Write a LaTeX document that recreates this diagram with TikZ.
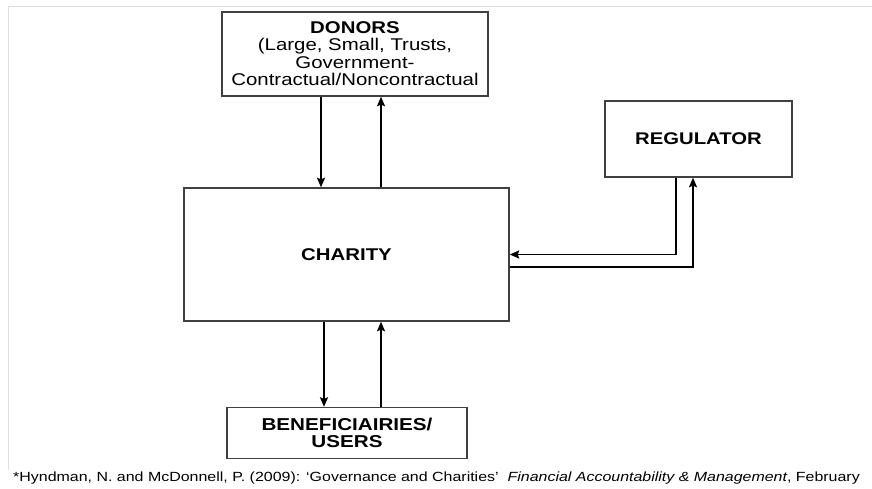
\documentclass[tikz,border=0pt]{standalone}
\usepackage{fontspec}
\setmainfont{Liberation Sans}[FakeStretch=1.2]
\usetikzlibrary{arrows.meta}
% lowers a box's contents by 2pt while keeping its declared size
\newcommand{\lowertext}[1]{\raisebox{-2pt}[\height][\depth]{\begin{tabular}{@{}c@{}}#1\end{tabular}}}
\begin{document}
\begin{tikzpicture}[x=1pt,y=-1pt,
  box/.style={draw=black!75,line width=1.4pt,fill=white,inner sep=0pt},
  flow/.style={draw=black,line width=1.8pt,-{Stealth[length=9.5pt,width=8pt,inset=1.5pt]}},
  frame/.style={draw=black!13,line width=1.6pt}]
\useasboundingbox (0,0) rectangle (872,488);
% page frame
\draw[frame] (8.5,470) -- (8.5,6.5) -- (872,6.5);
% boxes
\node[box,minimum width=266pt,minimum height=84pt,font=\fontsize{17}{17.5}\selectfont] (donors) at (355,54)
  {\lowertext{\textbf{DONORS}\\(Large, Small, Trusts,\\Government-\\Contractual/Noncontractual}};
\node[box,minimum width=187pt,minimum height=76pt,font=\fontsize{16.9}{18}\selectfont\bfseries] (reg) at (698.5,139) {\lowertext{REGULATOR}};
\node[box,minimum width=325pt,minimum height=133pt,font=\fontsize{17}{18}\selectfont\bfseries] (charity) at (346.5,254.5) {\lowertext{CHARITY}};
\node[box,minimum width=240pt,minimum height=51pt,font=\fontsize{17.2}{17}\selectfont\bfseries] (ben) at (347,433) {\lowertext{BENEFICIAIRIES/\\USERS}};
% connectors
\coordinate (c1) at (676,254.5);
\coordinate (c2) at (693,267);
\draw[flow] (donors.south -| 321,0) -- (charity.north -| 321,0);
\draw[flow] (charity.north -| 381,0) -- (donors.south -| 381,0);
\draw[flow] (reg.south -| c1) -- (c1) -- (c1 -| charity.east);
\draw[flow] (c2 -| charity.east) -- (c2) -- (reg.south -| c2);
\draw[flow] (charity.south -| 324,0) -- (ben.north -| 324,0);
\draw[flow] (ben.north -| 381,0) -- (charity.south -| 381,0);
% reference line
\node[anchor=west,inner sep=0pt,font=\fontsize{13.3}{15}\selectfont] (cite) at (13,478)
  {*Hyndman, N. and McDonnell, P. (2009): ‘Governance and Charities’\ \ \textit{Financial Accountability \& Management}, February};
\end{tikzpicture}
\end{document}
